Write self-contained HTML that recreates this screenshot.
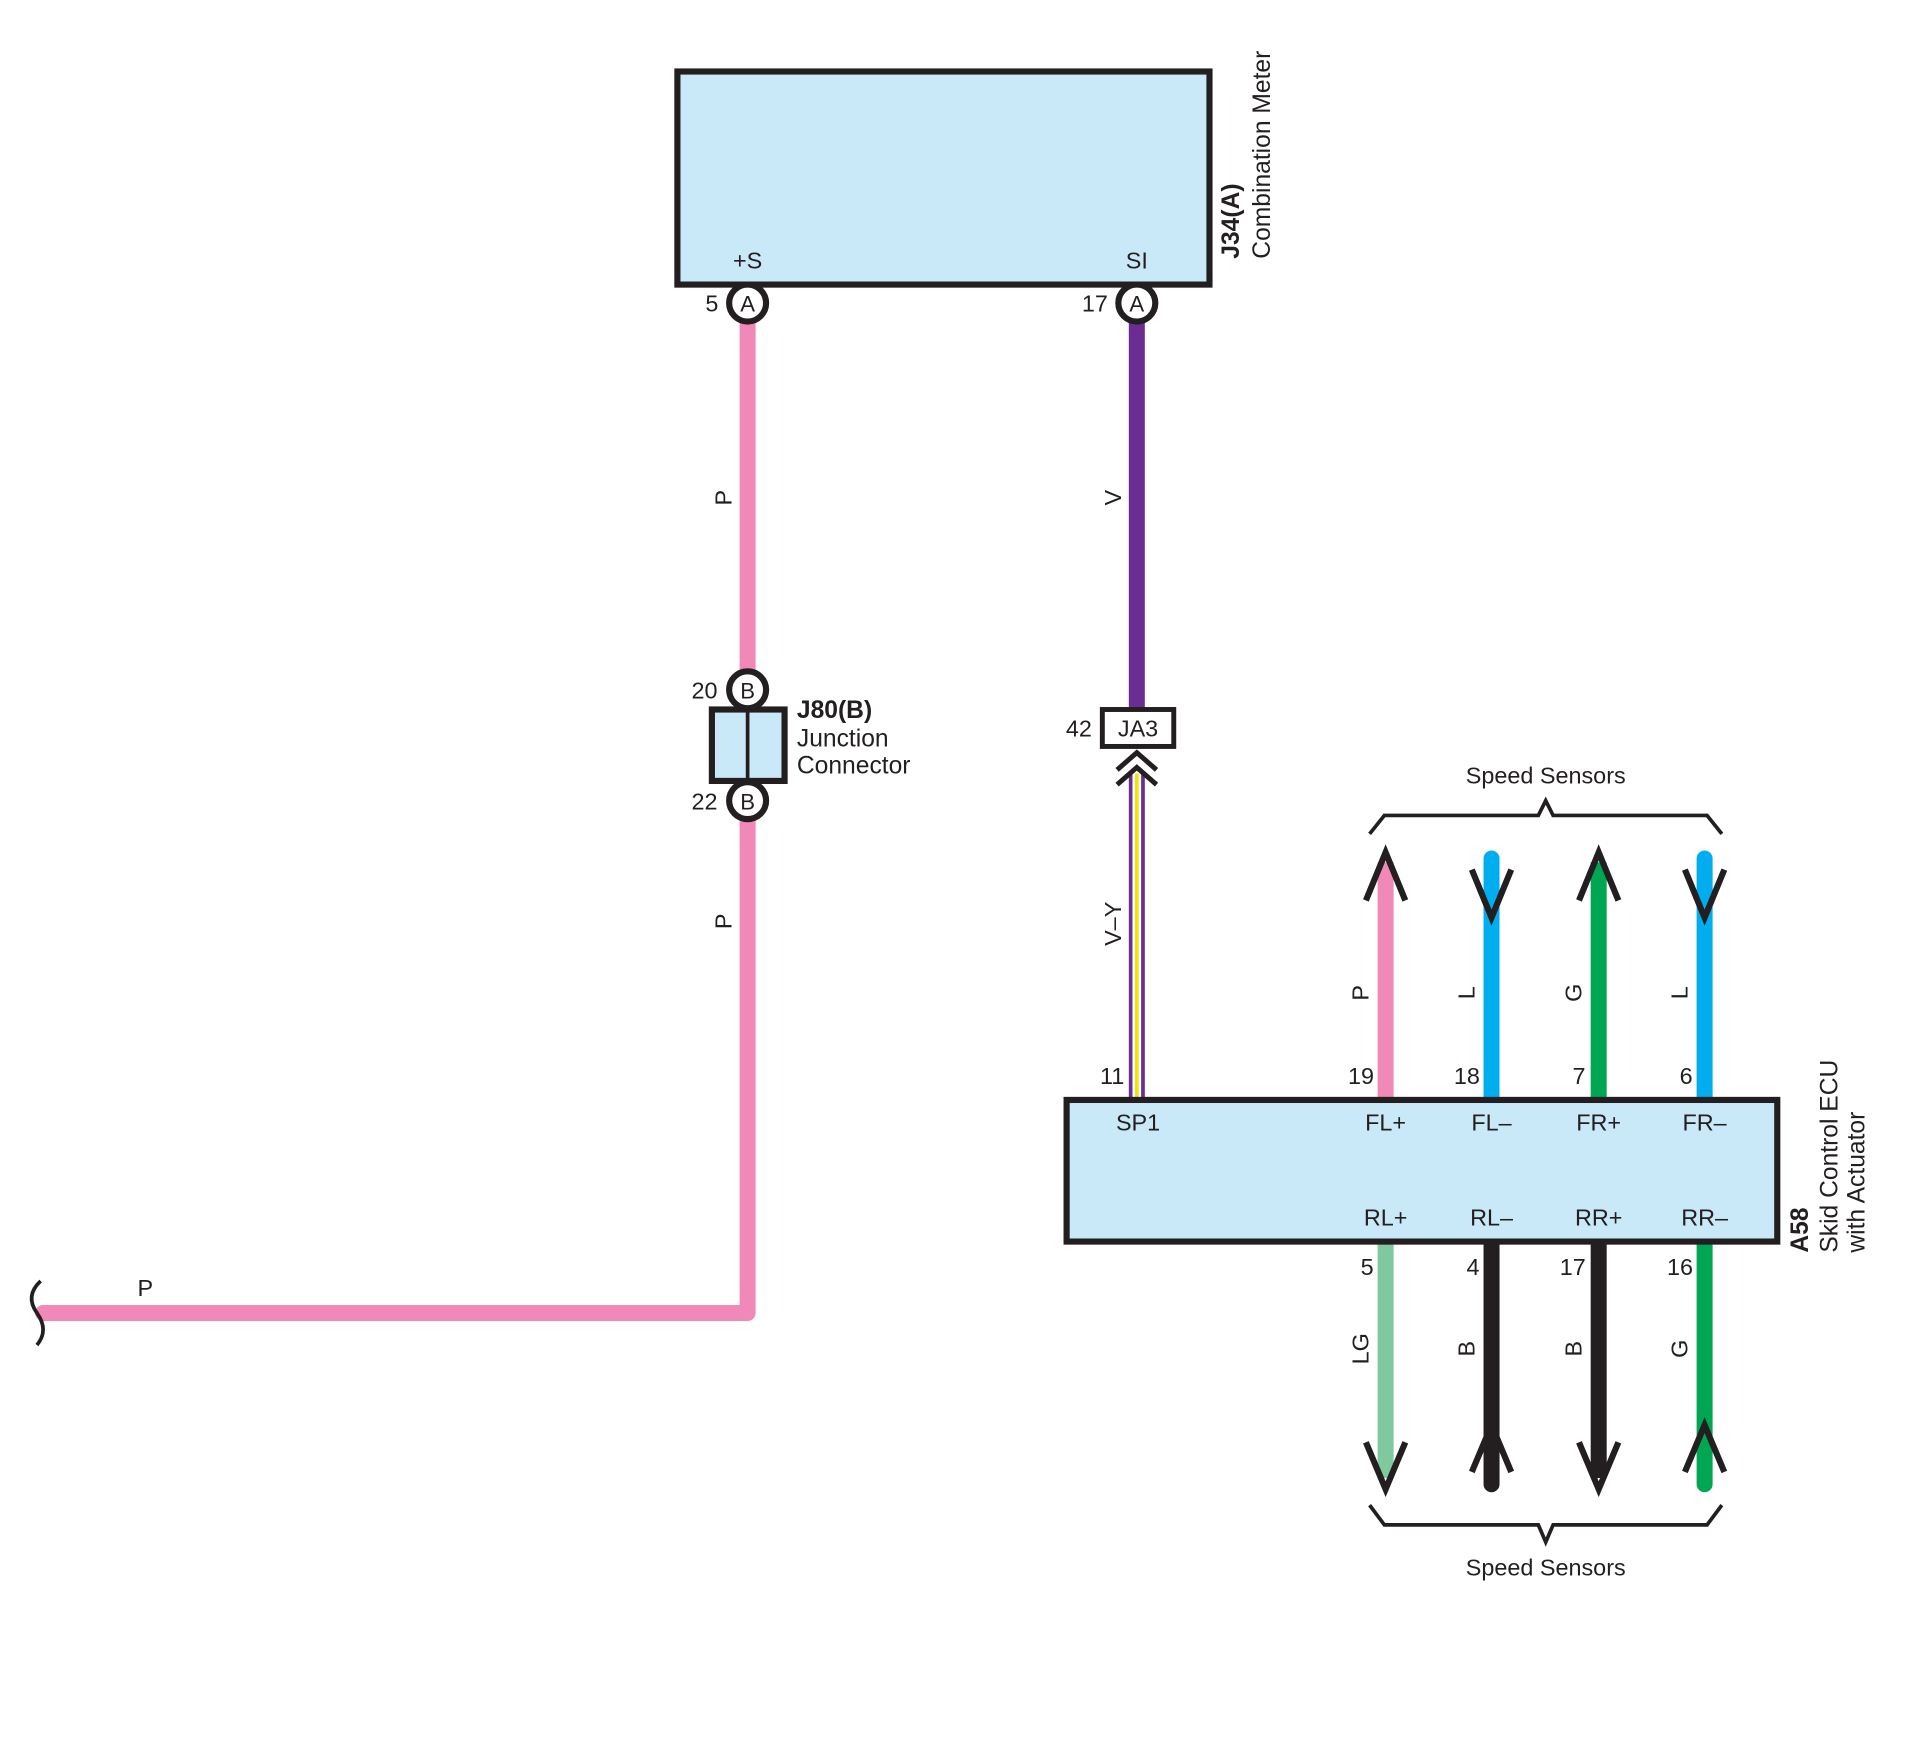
<!DOCTYPE html>
<html><head><meta charset="utf-8"><style>html,body{margin:0;padding:0;background:#fff}svg{display:block}text{font-family:"Liberation Sans",sans-serif;fill:#231f20}</style></head>
<body>
<svg width="1930" height="1738" viewBox="0 0 1567 1411" xmlns="http://www.w3.org/2000/svg">
<rect x="550" y="58" width="432" height="173" fill="#c9e8f8" stroke="#231f20" stroke-width="5"/>
<text x="607" y="218" font-size="19" text-anchor="middle">+S</text>
<text x="923" y="218" font-size="19" text-anchor="middle">SI</text>
<g transform="translate(1006,210) rotate(-90)"><text font-size="20" font-weight="bold">J34(A)</text></g>
<g transform="translate(1031,210) rotate(-90)"><text font-size="20">Combination Meter</text></g>

<path d="M607 262 V1066 H35" fill="none" stroke="#f088b8" stroke-width="13" stroke-linejoin="round" stroke-linecap="round"/>
<path d="M33 1040 Q20 1052 30 1066 Q40 1080 30 1092" fill="none" stroke="#231f20" stroke-width="3"/>
<text x="118" y="1052" font-size="19" text-anchor="middle">P</text>
<g transform="translate(594,404) rotate(-90)"><text font-size="19" text-anchor="middle">P</text></g>
<g transform="translate(594,748) rotate(-90)"><text font-size="19" text-anchor="middle">P</text></g>

<line x1="923" y1="262" x2="923" y2="576" stroke="#6b2d91" stroke-width="13"/>
<g transform="translate(910,404) rotate(-90)"><text font-size="19" text-anchor="middle">V</text></g>

<circle cx="607" cy="246" r="15" fill="#fff" stroke="#231f20" stroke-width="5"/>
<text x="607" y="253" font-size="18" text-anchor="middle">A</text>
<text x="578" y="253" font-size="19" text-anchor="middle">5</text>
<circle cx="923" cy="246" r="15" fill="#fff" stroke="#231f20" stroke-width="5"/>
<text x="923" y="253" font-size="18" text-anchor="middle">A</text>
<text x="889" y="253" font-size="19" text-anchor="middle">17</text>

<rect x="578" y="576" width="59" height="58" fill="#c9e8f8" stroke="#231f20" stroke-width="5"/>
<line x1="607" y1="576" x2="607" y2="634" stroke="#231f20" stroke-width="3"/>
<circle cx="607" cy="560" r="15" fill="#fff" stroke="#231f20" stroke-width="5"/>
<text x="607" y="567" font-size="18" text-anchor="middle">B</text>
<text x="572" y="567" font-size="19" text-anchor="middle">20</text>
<circle cx="607" cy="650" r="15" fill="#fff" stroke="#231f20" stroke-width="5"/>
<text x="607" y="657" font-size="18" text-anchor="middle">B</text>
<text x="572" y="657" font-size="19" text-anchor="middle">22</text>
<text x="647" y="583" font-size="20" font-weight="bold">J80(B)</text>
<text x="647" y="606" font-size="20">Junction</text>
<text x="647" y="628" font-size="20">Connector</text>

<rect x="895" y="576" width="58" height="30" fill="#fff" stroke="#231f20" stroke-width="4"/>
<text x="924" y="598" font-size="19" text-anchor="middle">JA3</text>
<text x="876" y="598" font-size="19" text-anchor="middle">42</text>
<line x1="923" y1="628" x2="923" y2="893" stroke="#6b2d91" stroke-width="13"/>
<line x1="923" y1="628" x2="923" y2="893" stroke="#fff" stroke-width="7"/>
<line x1="923" y1="628" x2="923" y2="893" stroke="#f2e600" stroke-width="3"/>
<path d="M907 625 L923 611 L939 625 M907 637 L923 623 L939 637" fill="none" stroke="#231f20" stroke-width="4"/>
<g transform="translate(910,750) rotate(-90)"><text font-size="19" text-anchor="middle">V–Y</text></g>
<text x="903" y="880" font-size="19" text-anchor="middle">11</text>

<path d="M1112 677 L1124 662 H1249 L1255 650 L1261 662 H1386 L1398 677" fill="none" stroke="#231f20" stroke-width="3"/>
<text x="1255" y="636" font-size="19" text-anchor="middle">Speed Sensors</text>
<path d="M1112 1222 L1124 1238 H1249 L1255 1252 L1261 1238 H1386 L1398 1222" fill="none" stroke="#231f20" stroke-width="3"/>
<text x="1255" y="1279" font-size="19" text-anchor="middle">Speed Sensors</text>

<line x1="1125" y1="700" x2="1125" y2="893" stroke="#f088b8" stroke-width="13"/>
<line x1="1211" y1="697" x2="1211" y2="893" stroke="#00aeef" stroke-width="13" stroke-linecap="round"/>
<line x1="1298" y1="700" x2="1298" y2="893" stroke="#00a651" stroke-width="13"/>
<line x1="1384" y1="697" x2="1384" y2="893" stroke="#00aeef" stroke-width="13" stroke-linecap="round"/>
<g fill="none" stroke="#231f20" stroke-width="5">
<path d="M1109 731 L1125 692 L1141 731"/>
<path d="M1195 706 L1211 745 L1227 706"/>
<path d="M1282 731 L1298 692 L1314 731"/>
<path d="M1368 706 L1384 745 L1400 706"/>
</g>
<line x1="1125" y1="1008" x2="1125" y2="1200" stroke="#80c89e" stroke-width="13"/>
<line x1="1211" y1="1008" x2="1211" y2="1205" stroke="#231f20" stroke-width="13" stroke-linecap="round"/>
<line x1="1298" y1="1008" x2="1298" y2="1200" stroke="#231f20" stroke-width="13"/>
<line x1="1384" y1="1008" x2="1384" y2="1205" stroke="#00a651" stroke-width="13" stroke-linecap="round"/>
<g fill="none" stroke="#231f20" stroke-width="5">
<path d="M1109 1171 L1125 1209 L1141 1171"/>
<path d="M1195 1195 L1211 1157 L1227 1195"/>
<path d="M1282 1171 L1298 1209 L1314 1171"/>
<path d="M1368 1195 L1384 1157 L1400 1195"/>
</g>

<g font-size="19" text-anchor="middle">
<text x="1105" y="880">19</text><text x="1191" y="880">18</text><text x="1282" y="880">7</text><text x="1369" y="880">6</text>
<text x="1110" y="1035">5</text><text x="1196" y="1035">4</text><text x="1277" y="1035">17</text><text x="1364" y="1035">16</text>
</g>
<g font-size="19" text-anchor="middle">
<g transform="translate(1111,806) rotate(-90)"><text>P</text></g>
<g transform="translate(1197,806) rotate(-90)"><text>L</text></g>
<g transform="translate(1284,806) rotate(-90)"><text>G</text></g>
<g transform="translate(1370,806) rotate(-90)"><text>L</text></g>
<g transform="translate(1111,1095) rotate(-90)"><text>LG</text></g>
<g transform="translate(1197,1095) rotate(-90)"><text>B</text></g>
<g transform="translate(1284,1095) rotate(-90)"><text>B</text></g>
<g transform="translate(1370,1095) rotate(-90)"><text>G</text></g>
</g>

<rect x="866" y="893" width="577" height="115" fill="#c9e8f8" stroke="#231f20" stroke-width="5"/>
<g font-size="19" text-anchor="middle">
<text x="924" y="918">SP1</text>
<text x="1125" y="918">FL+</text><text x="1211" y="918">FL–</text><text x="1298" y="918">FR+</text><text x="1384" y="918">FR–</text>
<text x="1125" y="995">RL+</text><text x="1211" y="995">RL–</text><text x="1298" y="995">RR+</text><text x="1384" y="995">RR–</text>
</g>
<g transform="translate(1468,1017) rotate(-90)"><text font-size="20" font-weight="bold">A58</text></g>
<g transform="translate(1492,1017) rotate(-90)"><text font-size="20">Skid Control ECU</text></g>
<g transform="translate(1514,1017) rotate(-90)"><text font-size="20">with Actuator</text></g>
</svg>
</body></html>
